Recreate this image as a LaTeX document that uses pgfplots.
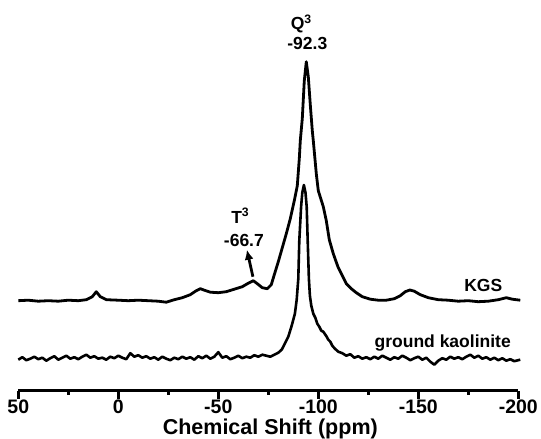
\documentclass[border=0pt]{standalone}
\usepackage{fontspec}
\setmainfont{Liberation Sans}
\usepackage{pgfplots}
\pgfplotsset{compat=1.18}
\usetikzlibrary{arrows.meta,calc}

% KGS trace, y in px above the axis line
\pgfplotstableread{
x y
50 90
45 90.5
40 89.5
35 90
30 89.5
25 90.5
20 90
16 91
13 94
11 99
9 94
6 91
0 90.5
-5 90
-10 90.5
-15 90
-20 89.5
-24 88.5
-28 91
-32 93
-36 96
-39 100
-41 102
-43 100.5
-46 98.5
-50 98
-54 99
-58 101.5
-62 104
-65 107.5
-67.5 110
-69.5 107
-72 103
-74.5 102
-76.5 106
-78 116
-80 129
-82 143
-84 157
-86 172
-88 190
-89.5 205
-90.5 232
-91 250
-92 272
-93 310
-94 329
-95 314
-96 286
-97 260
-97.5 250
-99 217
-100 200
-102.5 184
-104 170
-105.5 151
-107.5 137
-109.8 124
-112 115
-114 107
-116.5 102
-119 98
-122 94
-126 91.5
-130 90.5
-134 90.5
-138 92
-141 95
-143.5 99
-145.8 100.7
-148 99.5
-151 96
-155 93
-160 91
-165 90.5
-170 89.5
-175 90
-180 89
-185 89.5
-190 91
-194 93
-197 91.5
-201 90.5
}\kgs

% ground kaolinite trace
\pgfplotstableread{
x y
50 31
48 33.5
46 30.5
44 32
42 34
40 31.5
38 33
36 30
34 32.5
32 34.5
30 31
28 33
26 35
24 32
22 33.5
20 31.5
18 34
16 36
14 33
12 34.5
10 32
8 33
6 31
4 34
2 32.5
0 35
-2 33
-4 31.5
-6 37.5
-8 34
-10 35.5
-12 33
-14 34.5
-16 32
-18 33.5
-20 31
-22 34
-24 32
-26 30.5
-28 33
-30 31.5
-32 34
-34 32
-36 33.5
-38 31
-40 34.5
-42 32.5
-44 35
-46 32
-48 34
-50 38.5
-52 33
-54 34.5
-56 31.5
-58 33
-60 35
-62 32.5
-64 34
-66 33
-68 35.5
-70 34
-72 36
-74 35
-76 34
-78 36
-80 38
-81.7 41
-83 46
-85 54
-86.7 65
-88.3 77
-89.2 91
-90 112
-90.5 150
-91.4 184
-92 198
-92.8 205.7
-93.6 198
-94.2 184
-94.7 150
-95.3 112
-95.8 95
-96.5 85
-97.5 77
-98.5 73
-99.5 67
-100.5 64
-101.5 60
-102.5 59
-104.2 54
-105 51
-106 49
-107 45
-108.3 42
-110 39
-112 37.5
-114 35
-116 36.5
-118 33
-120 34.5
-122 32
-124 33.5
-126 31.5
-128 34
-130 32
-132 35
-134 33
-136 31
-138 33.5
-140 32
-142 35
-144 33
-146 30.5
-148 32.5
-150 34
-152 31
-154 33
-156 29
-158 26
-160 30
-162 32.5
-164 31
-166 34
-168 32
-170 33.5
-172 31.5
-174 34
-176 36
-178 33
-180 35
-182 32
-184 33.5
-186 31
-188 33
-190 30.5
-192 32.5
-194 30
-196 31.5
-198 29.5
-201 31
}\kao

\begin{document}
\begin{tikzpicture}
\begin{axis}[
  scale only axis,
  width=500pt, height=390pt,
  x dir=reverse,
  xmin=-200, xmax=50,
  ymin=0, ymax=390,
  axis x line=bottom,
  axis y line=none,
  x axis line style={-, line width=2.5pt},
  xtick={-200,-150,-100,-50,0,50},
  xticklabels={-200,-150,-100,-50,0,50},
  minor xtick={-175,-125,-75,-25,25},
  tick align=outside,
  major tick length=8pt,
  minor tick length=4pt,
  every tick/.style={black, line width=2.5pt},
  xticklabel style={font=\fontsize{19.5}{21}\selectfont\bfseries, inner sep=0pt, anchor=base, yshift=-15pt},
  xlabel={Chemical Shift (ppm)},
  xlabel style={at={(axis cs:-76,0)}, anchor=base, yshift=-44pt, inner sep=0pt,
    font=\fontsize{21.5}{23}\selectfont\bfseries},
  clip=false,
]
\addplot[black, line width=2.8pt, line join=round] table {\kgs};
\addplot[black, line width=2.6pt, line join=round] table {\kao};

\begin{scope}[font=\fontsize{17.5}{20}\selectfont\bfseries]
\node at (axis cs:-91.5,367) {Q\textsuperscript{3}};
\node at (axis cs:-94.5,347) {-92.3};
\node at (axis cs:-61,175) {T\textsuperscript{3}};
\node at (axis cs:-62.8,150.5) {-66.7};
\node at (axis cs:-182.5,105.5) {KGS};
\node at (axis cs:-162.2,47.5) {ground kaolinite};
\end{scope}
\draw[line width=2.8pt, -{Latex[length=10pt,width=9pt]}] (axis cs:-67.3,114) -- (axis cs:-64.3,141);

\coordinate (bl) at (axis cs:59.15,-48.3);
\coordinate (tr) at (axis cs:-211.35,390.7);
\end{axis}
\pgfresetboundingbox
\useasboundingbox (bl) rectangle (tr);
\end{tikzpicture}
\end{document}
